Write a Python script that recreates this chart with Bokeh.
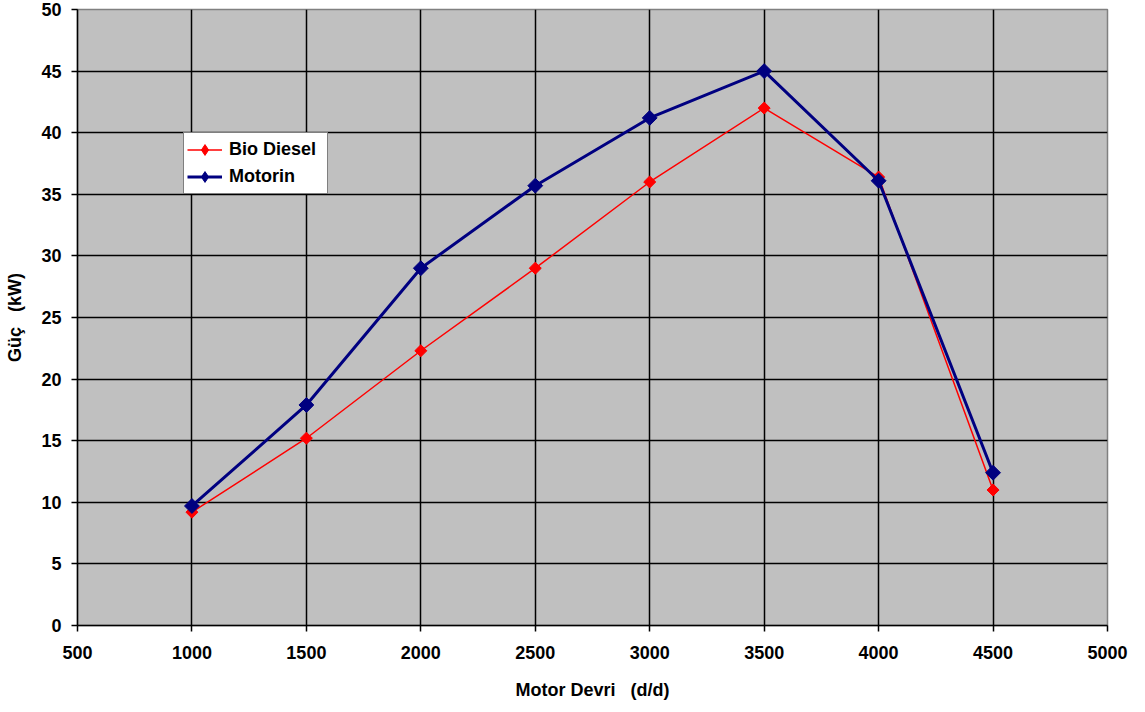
import math
from bokeh.plotting import figure
from bokeh.models import Range1d, FixedTicker, Legend, LegendItem
from bokeh.embed import file_html
from bokeh.resources import INLINE

rpm = [1000, 1500, 2000, 2500, 3000, 3500, 4000, 4500]
bio_diesel = [9.2, 15.2, 22.3, 29.0, 36.0, 42.0, 36.4, 11.0]
motorin = [9.7, 17.9, 29.0, 35.7, 41.2, 45.0, 36.1, 12.4]
x_ticks = [500, 1000, 1500, 2000, 2500, 3000, 3500, 4000, 4500, 5000]
y_ticks = [0, 5, 10, 15, 20, 25, 30, 35, 40, 45, 50]

FONT = "Liberation Sans"
NB = "\u00a0"

p = figure(frame_width=1030, frame_height=616,
           min_border_left=77, min_border_right=38, min_border_top=9, min_border_bottom=87,
           x_range=Range1d(500, 5000), y_range=Range1d(0, 50),
           output_backend="svg", toolbar_location=None)

p.background_fill_color = "#C0C0C0"
p.border_fill_color = "white"
p.outline_line_color = "#808080"
p.outline_line_width = 1.5

for ax in (p.xaxis[0], p.yaxis[0]):
    ax.axis_line_color = "black"
    ax.axis_line_width = 1.5
    ax.major_tick_line_color = "black"
    ax.major_tick_line_width = 1.5
    ax.major_tick_out = 6
    ax.major_tick_in = 0
    ax.minor_tick_line_color = None
    ax.major_label_text_font = FONT
    ax.major_label_text_font_style = "bold"
    ax.major_label_text_font_size = "18px"
    ax.major_label_text_color = "black"
    ax.axis_label_text_font = FONT
    ax.axis_label_text_font_style = "bold"
    ax.axis_label_text_font_size = "18px"
    ax.axis_label_text_color = "black"

p.xaxis.ticker = FixedTicker(ticks=x_ticks)
p.yaxis.ticker = FixedTicker(ticks=y_ticks)
p.xaxis.axis_label = "Motor Devri" + NB * 3 + "(d/d)"
p.yaxis.axis_label = "Güç" + NB * 3 + "(kW)"
p.xaxis.major_label_standoff = 14
p.yaxis.major_label_standoff = 10
p.xaxis.axis_label_standoff = 18
p.yaxis.axis_label_standoff = 13

p.xgrid[0].ticker = FixedTicker(ticks=x_ticks)
p.ygrid[0].ticker = FixedTicker(ticks=y_ticks)
for g in (p.xgrid[0], p.ygrid[0]):
    g.grid_line_color = "black"
    g.grid_line_width = 1.5

p.line(rpm, bio_diesel, line_color="#FF0000", line_width=1.5)
p.scatter(rpm, bio_diesel, marker="square", angle=math.pi / 4, size=8.5,
          fill_color="#FF0000", line_color="#FF0000")
p.line(rpm, motorin, line_color="#000080", line_width=3)
p.scatter(rpm, motorin, marker="square", angle=math.pi / 4, size=10.5,
          fill_color="#000080", line_color="#000080")

# legend-only glyphs (hidden renderers, diamond markers as in the reference legend)
lg_bio_line = p.line(rpm, bio_diesel, line_color="#FF0000", line_width=1.5, visible=False)
lg_bio_pt = p.scatter(rpm, bio_diesel, marker="diamond", fill_color="#FF0000",
                      line_color="#FF0000", visible=False)
lg_mot_line = p.line(rpm, motorin, line_color="#000080", line_width=3, visible=False)
lg_mot_pt = p.scatter(rpm, motorin, marker="diamond", fill_color="#000080",
                      line_color="#000080", visible=False)

legend = Legend(items=[LegendItem(label="Bio Diesel", renderers=[lg_bio_line, lg_bio_pt]),
                       LegendItem(label="Motorin", renderers=[lg_mot_line, lg_mot_pt])],
                location=(106, 431), margin=0, padding=3, spacing=0,
                glyph_width=35, glyph_height=27, label_height=27, label_width=95,
                label_standoff=7,
                label_text_font=FONT, label_text_font_style="bold", label_text_font_size="18px",
                label_text_color="black",
                border_line_color="black", border_line_width=1.5,
                background_fill_color="white", background_fill_alpha=1.0,
                inactive_fill_alpha=0.0)
p.add_layout(legend)

open("out.html", "w").write(file_html(p, INLINE))
